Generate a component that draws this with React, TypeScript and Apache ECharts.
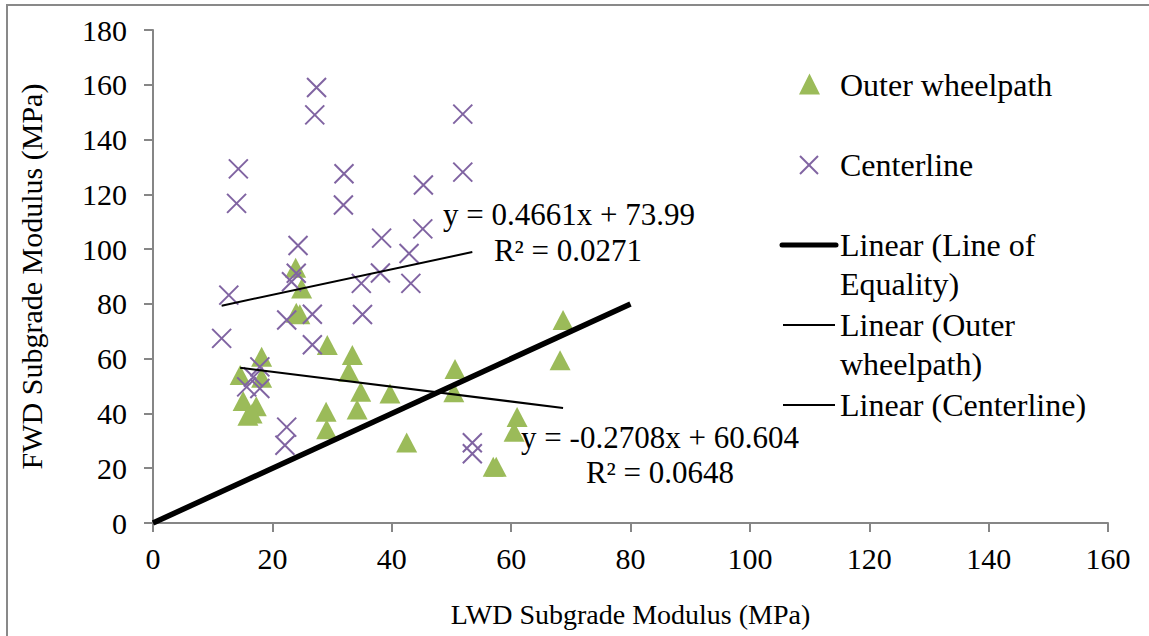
import React, { useEffect, useRef } from "react";
import * as echarts from "echarts";

const FONT = "'Liberation Serif', 'Times New Roman', serif";

const outerWheelpath: [number, number][] = [
  [23.9, 93.2], [24.9, 85.6], [24.0, 76.8], [24.6, 76.2], [29.2, 65.0],
  [33.4, 61.3], [32.8, 55.2], [34.8, 47.9], [34.2, 41.4], [39.7, 47.3],
  [29.0, 40.6], [29.1, 34.2], [42.5, 29.4], [50.6, 56.2], [50.4, 47.7],
  [18.2, 60.7], [14.6, 54.0], [18.2, 53.0], [15.1, 44.5], [17.3, 42.6],
  [15.9, 39.2], [16.6, 40.0], [68.7, 74.1], [68.2, 59.4], [61.0, 38.7],
  [60.5, 33.3], [57.0, 20.5], [57.5, 20.5],
];

const centerline: [number, number][] = [
  [27.4, 159.0], [27.1, 149.0], [51.9, 149.3], [14.3, 129.3], [32.0, 127.5],
  [51.9, 128.1], [45.3, 123.4], [14.0, 116.7], [31.9, 116.1], [45.2, 107.4],
  [38.3, 104.0], [24.3, 101.3], [42.9, 98.4], [38.1, 91.3], [24.0, 91.2],
  [23.2, 88.1], [12.7, 83.2], [11.5, 67.4], [34.9, 87.5], [43.2, 87.5],
  [35.1, 76.1], [26.7, 76.2], [22.4, 74.1], [26.7, 65.1], [17.9, 57.0],
  [16.8, 53.3], [15.7, 49.7], [17.9, 49.1], [22.4, 35.0], [22.1, 28.4],
  [53.5, 29.3], [53.5, 25.3],
];

const equalityLine: [number, number][] = [[0, 0], [80, 80]];

const outerSlope = -0.2708;
const outerIntercept = 60.604;
const centerSlope = 0.4661;
const centerIntercept = 73.99;

const centerEquation = ["y = 0.4661x + 73.99", "R² = 0.0271"];
const outerEquation = ["y = -0.2708x + 60.604", "R² = 0.0648"];

const seriesNames = [
  "Outer wheelpath",
  "Centerline",
  "Linear (Line of Equality)",
  "Linear (Outer wheelpath)",
  "Linear (Centerline)",
];
const legendLines = [
  ["Outer wheelpath"],
  ["Centerline"],
  ["Linear (Line of", "Equality)"],
  ["Linear (Outer", "wheelpath)"],
  ["Linear (Centerline)"],
];

const xAxisTitle = "LWD Subgrade Modulus (MPa)";
const yAxisTitle = "FWD Subgrade Modulus (MPa)";

function trend(points: [number, number][], slope: number, intercept: number): [number, number][] {
  const xs = points.map((p) => p[0]);
  const x0 = Math.min(...xs);
  const x1 = Math.max(...xs);
  return [
    [x0, slope * x0 + intercept],
    [x1, slope * x1 + intercept],
  ];
}

const GREEN = "#9BBB59";
const PURPLE = "#8064A2";
const AXIS = "#868686";

export default function App() {
  const ref = useRef<HTMLDivElement>(null);

  useEffect(() => {
    if (!ref.current) return;
    const chart = echarts.init(ref.current, undefined, { renderer: "svg" });

    const legendY = [85, 165, 245, 325, 405];
    const lineHeight = 39;
    const legendGraphics: any[] = [];
    legendGraphics.push({
      type: "polygon",
      shape: { points: [[799, 94.5], [820, 94.5], [809.5, 73.5]] },
      style: { fill: GREEN },
      silent: true,
    });
    legendGraphics.push({
      type: "line",
      shape: { x1: 800, y1: 156, x2: 818, y2: 174 },
      style: { stroke: PURPLE, lineWidth: 2 },
      silent: true,
    });
    legendGraphics.push({
      type: "line",
      shape: { x1: 818, y1: 156, x2: 800, y2: 174 },
      style: { stroke: PURPLE, lineWidth: 2 },
      silent: true,
    });
    legendGraphics.push({
      type: "line",
      shape: { x1: 782, y1: legendY[2], x2: 836, y2: legendY[2] },
      style: { stroke: "#000", lineWidth: 5, lineCap: "round" },
      silent: true,
    });
    legendGraphics.push({
      type: "line",
      shape: { x1: 783, y1: legendY[3], x2: 835, y2: legendY[3] },
      style: { stroke: "#000", lineWidth: 2 },
      silent: true,
    });
    legendGraphics.push({
      type: "line",
      shape: { x1: 783, y1: legendY[4], x2: 835, y2: legendY[4] },
      style: { stroke: "#000", lineWidth: 2 },
      silent: true,
    });
    legendLines.forEach((lines, i) => {
      lines.forEach((t, j) => {
        legendGraphics.push({
          type: "text",
          x: 840,
          y: legendY[i] + j * lineHeight,
          style: {
            text: t,
            fontFamily: FONT,
            fontSize: 32,
            fill: "#000",
            align: "left",
            verticalAlign: "middle",
            textAlign: "left",
            textVerticalAlign: "middle",
          },
          silent: true,
        });
      });
    });

    const eqText = (t: string, x: number, y: number) => ({
      type: "text",
      x,
      y,
      style: {
        text: t,
        fontFamily: FONT,
        fontSize: 31,
        fill: "#000",
        align: "center",
        verticalAlign: "middle",
        textAlign: "center",
        textVerticalAlign: "middle",
      },
      silent: true,
    });

    chart.setOption({
      animation: false,
      backgroundColor: "#fff",
      textStyle: { fontFamily: FONT },
      grid: {
        left: 153,
        top: 30,
        right: 41,
        bottom: 113,
        containLabel: false,
        outerBoundsMode: "none",
      },
      xAxis: {
        type: "value",
        min: 0,
        max: 160,
        interval: 20,
        name: xAxisTitle,
        nameLocation: "middle",
        nameGap: 77,
        nameTextStyle: { fontFamily: FONT, fontSize: 28, color: "#000" },
        axisLine: { show: true, onZero: false, lineStyle: { color: AXIS, width: 2 } },
        axisTick: { show: true, inside: false, length: 9, lineStyle: { color: AXIS, width: 2 } },
        axisLabel: { fontFamily: FONT, fontSize: 30, color: "#000", margin: 20 },
        splitLine: { show: false },
      },
      yAxis: {
        type: "value",
        min: 0,
        max: 180,
        interval: 20,
        name: yAxisTitle,
        nameLocation: "middle",
        nameGap: 107,
        nameTextStyle: { fontFamily: FONT, fontSize: 30, color: "#000" },
        axisLine: { show: true, onZero: false, lineStyle: { color: AXIS, width: 2 } },
        axisTick: { show: true, inside: false, length: 9, lineStyle: { color: AXIS, width: 2 } },
        axisLabel: { fontFamily: FONT, fontSize: 30, color: "#000", margin: 26 },
        splitLine: { show: false },
      },
      series: [
        {
          name: seriesNames[0],
          type: "scatter",
          data: outerWheelpath,
          symbol: "triangle",
          symbolSize: [21, 20],
          itemStyle: { color: GREEN, opacity: 1 },
          z: 2,
        },
        {
          name: seriesNames[1],
          type: "scatter",
          data: centerline,
          symbol: "path://M0,0L20,20M20,0L0,20",
          symbolSize: [19, 19],
          itemStyle: { color: "none", borderColor: PURPLE, borderWidth: 2, opacity: 1 },
          z: 3,
        },
        {
          name: seriesNames[2],
          type: "line",
          data: equalityLine,
          symbol: "none",
          lineStyle: { color: "#000", width: 5.5 },
          z: 5,
        },
        {
          name: seriesNames[3],
          type: "line",
          data: trend(outerWheelpath, outerSlope, outerIntercept),
          symbol: "none",
          lineStyle: { color: "#000", width: 2 },
          z: 5,
        },
        {
          name: seriesNames[4],
          type: "line",
          data: trend(centerline, centerSlope, centerIntercept),
          symbol: "none",
          lineStyle: { color: "#000", width: 2 },
          z: 5,
        },
      ],
      graphic: [
        {
          type: "rect",
          shape: { x: 7, y: 5, width: 1200, height: 700 },
          style: { fill: "none", stroke: "#898989", lineWidth: 2 },
          silent: true,
          z: -10,
        },
        eqText(centerEquation[0], 569, 214),
        eqText(centerEquation[1], 568, 250),
        eqText(outerEquation[0], 660, 437),
        eqText(outerEquation[1], 660, 472),
        ...legendGraphics,
      ],
    });

    return () => chart.dispose();
  }, []);

  return (
    <div
      ref={ref}
      style={{ position: "fixed", left: 0, top: 0, width: 1149, height: 636, background: "#fff" }}
    />
  );
}
